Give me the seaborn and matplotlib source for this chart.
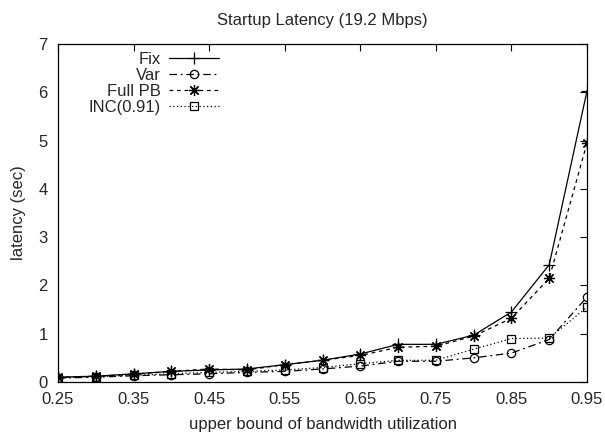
import matplotlib
matplotlib.use("Agg")
import matplotlib.pyplot as plt
import seaborn as sns
import pandas as pd

x_vals = [0.25, 0.30, 0.35, 0.40, 0.45, 0.50, 0.55, 0.60, 0.65, 0.70, 0.75, 0.80, 0.85, 0.90, 0.95]
fix = [0.10, 0.12, 0.17, 0.22, 0.25, 0.27, 0.36, 0.45, 0.58, 0.78, 0.78, 0.97, 1.45, 2.43, 6.03]
var = [0.08, 0.10, 0.13, 0.15, 0.17, 0.20, 0.22, 0.27, 0.33, 0.43, 0.43, 0.50, 0.60, 0.88, 1.76]
full_pb = [0.10, 0.12, 0.16, 0.22, 0.27, 0.25, 0.36, 0.45, 0.55, 0.72, 0.74, 0.95, 1.32, 2.15, 4.95]
inc = [0.09, 0.11, 0.14, 0.17, 0.20, 0.22, 0.25, 0.30, 0.38, 0.45, 0.45, 0.68, 0.90, 0.91, 1.55]
series_names = ["Fix", "Var", "Full PB", "INC(0.91)"]
x_ticks = [0.25, 0.35, 0.45, 0.55, 0.65, 0.75, 0.85, 0.95]
y_ticks = [0, 1, 2, 3, 4, 5, 6, 7]

sns.set_style("white")
plt.rcParams['font.family'] = ['Liberation Sans', 'DejaVu Sans']

fig = plt.figure(figsize=(6.05, 4.34), dpi=100)
ax = fig.add_axes([0.0959, 0.1198, 0.8744, 0.7788])

styles = [
    dict(marker='+', linestyle='-', ms=9),
    dict(marker='o', linestyle=(0, (6, 3, 1.5, 3)), ms=6, mfc='none'),
    dict(marker=(8, 2, 0), linestyle=(0, (3, 3)), ms=8),
    dict(marker='s', linestyle=(0, (1, 2)), ms=6, mfc='none'),
]
for name, vals, st in zip(series_names, [fix, var, full_pb, inc], styles):
    df = pd.DataFrame({"x": x_vals, "y": vals})
    sns.lineplot(data=df, x="x", y="y", ax=ax, color='black', lw=0.9,
                 label=name, mec='black', mew=0.9, **st)

ax.set_xlim(0.25, 0.95)
ax.set_ylim(0, 7)
ax.set_xticks(x_ticks)
ax.set_xticklabels([f"{t:.2f}" for t in x_ticks])
ax.set_yticks(y_ticks)
ax.tick_params(direction='in', top=True, right=True, length=5, width=0.8,
               labelsize=12, color='black')
ax.tick_params(axis='x', pad=7)
ax.tick_params(axis='y', pad=7.5)
for s in ax.spines.values():
    s.set_color('black')
    s.set_linewidth(0.9)
ax.set_xlabel("upper bound of bandwidth utilization", fontsize=12)
ax.xaxis.set_label_coords(0.5, -0.105)
ax.set_ylabel("latency (sec)", fontsize=12)
ax.yaxis.set_label_coords(-0.06, 0.5)
ax.set_title("Startup Latency (19.2 Mbps)", fontsize=12, pad=14)
ax.legend(loc='upper right', frameon=False, markerfirst=False, fontsize=12,
          handlelength=3.0, handletextpad=0.5, labelspacing=0.05,
          borderaxespad=0, borderpad=0, bbox_to_anchor=(0.304, 0.976))
fig.savefig("out.png", dpi=100)
